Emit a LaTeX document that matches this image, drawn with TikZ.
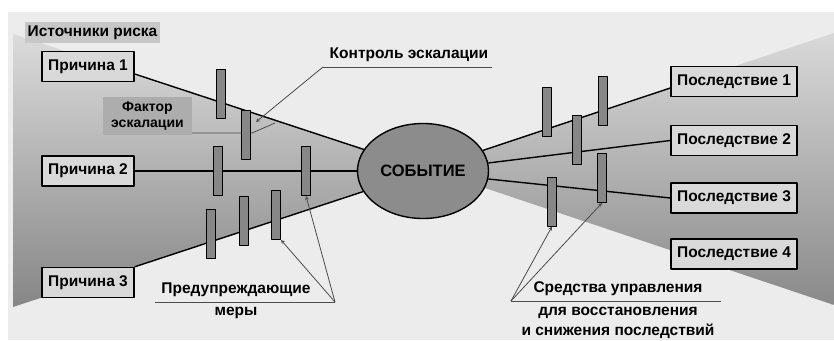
\documentclass[tikz,border=0pt]{standalone}
\usepackage{fontspec}
\setmainfont{Liberation Sans}
\usetikzlibrary{shapes.geometric}
\definecolor{panelgray}{gray}{0.925}
\definecolor{boxgray}{gray}{0.85}
\definecolor{srcgray}{gray}{0.78}
\definecolor{facgray}{gray}{0.68}
\definecolor{evgray}{gray}{0.55}
\definecolor{bargray}{gray}{0.53}
\definecolor{leadgray}{gray}{0.3}
\begin{document}
\begin{tikzpicture}[x=1pt,y=-1pt,font=\fontsize{15.5}{17}\selectfont\bfseries,line join=round,>=stealth,
	box/.style={draw,line width=1.4pt,fill=boxgray,inner sep=0pt,minimum height=30},
	bar/.style={draw,line width=0.9pt,fill=bargray,inner sep=0pt,minimum width=9,minimum height=49},
	link/.style={line width=1.4pt},
	lead/.style={draw=leadgray,line width=0.8pt}]
	\useasboundingbox (0,0) rectangle (834,340);
	% background and the two wings
	\fill[panelgray] (8,12) rectangle (834,340);
	\shade[top color=gray!28,bottom color=gray!95] (13,34)--(380,154)--(380,186)--(13,307)--cycle;
	\shade[top color=gray!30,bottom color=gray!92] (470,155)--(834,33)--(834,305)--(470,183)--cycle;
	% nodes
	\node[fill=srcgray,inner sep=0pt,minimum width=135,minimum height=21] (src) at (92.5,32.5) {Источники риска};
	\node[box,minimum width=92] (p1) at (88,66.5) {Причина 1};
	\node[box,minimum width=92] (p2) at (88,171) {Причина 2};
	\node[box,minimum width=92] (p3) at (88,282.5) {Причина 3};
	\node[fill=facgray,inner sep=0pt,minimum width=89,minimum height=38,align=center,font=\fontsize{14}{16}\selectfont\bfseries] (fac) at (147.5,116) {Фактор\\эскалации};
	\node[draw,line width=1.4pt,ellipse,fill=evgray,inner sep=0pt,minimum width=131,minimum height=95,font=\fontsize{16.5}{18}\selectfont\bfseries] (ev) at (423,171) {СОБЫТИЕ};
	\node[box,minimum width=126] (c1) at (734,81.5) {Последствие 1};
	\node[box,minimum width=126] (c2) at (734,140.5) {Последствие 2};
	\node[box,minimum width=126] (c3) at (734,198) {Последствие 3};
	\node[box,minimum width=126] (c4) at (734,254) {Последствие 4};
	\node (ctl) at (409,55) {Контроль эскалации};
	\node (prev) at (236,290) {Предупреждающие};
	\node (prev2) at (236,313) {меры};
	\node (mit) at (618,289) {Средства управления};
	\node (mit2) at (618,313) {для восстановления};
	\node (mit3) at (618,331) {и снижения последствий};
	% links through the event
	\draw[link] ([yshift=-7.5pt]p1.east)--(ev.160);
	\draw[link] (p2.east)--(ev.west);
	\draw[link] (p3.north east)--(ev.199);
	\draw[link] (ev.19)--([yshift=-6.5pt]c1.west);
	\draw[link] (ev.7)--(c2.west);
	\draw[link] (ev.353)--(c3.west);
	% escalation factor leader
	\coordinate (facend) at (252,133);
	\coordinate (esc) at (275,123);
	\draw[lead] (fac.east |- facend)--(facend)--(esc);
	% barriers
	\foreach \n/\x/\y in {1/221/93.5,2/246/134.5,3/218/171,4/306/171,5/211/234,6/244/221,7/276/215,
		8/547/112,9/577/140,10/603/101,11/602/178,12/552/201.5}
		\node[bar] (b\n) at (\x,\y) {};
	% labels with leaders
	\coordinate (ctlL) at (323,67);\coordinate (ctlR) at (492,67);\coordinate (ctlT) at (256,122);
	\draw[lead] (ctlR)--(ctlL);\draw[lead,->] (ctlL)--(ctlT);
	\coordinate (prevL) at (155,302);\coordinate (prevR) at (335,302);
	\draw[lead] (prevL)--(prevR);\draw[lead,->] (prevR)--(b4.south);\draw[lead,->] (prevR)--(b7.south east);
	\coordinate (mitL) at (511,301);\coordinate (mitR) at (721,301);
	\draw[lead] (mitL)--(mitR);\draw[lead,->] (mitL)--(b12.south);\draw[lead,->] (mitL)--(b11.south);
\end{tikzpicture}
\end{document}
